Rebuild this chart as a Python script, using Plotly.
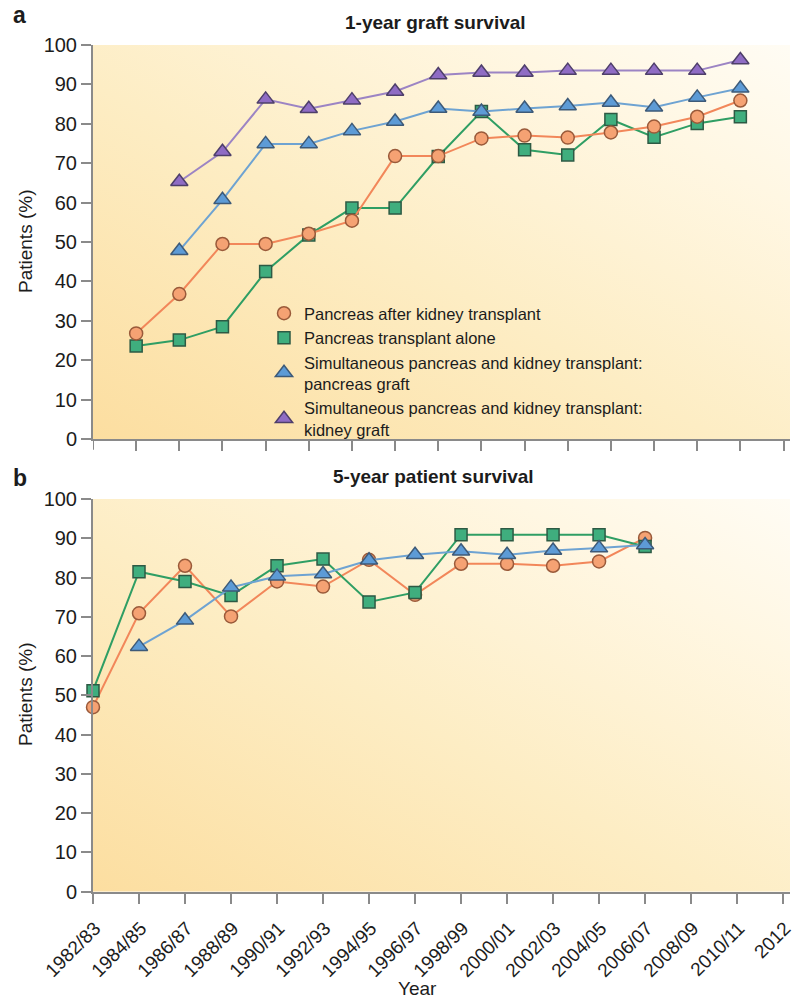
import base64
import plotly.graph_objects as go

# ---------------- data ----------------
periods = ["1982/83", "1984/85", "1986/87", "1988/89", "1990/91", "1992/93",
           "1994/95", "1996/97", "1998/99", "2000/01", "2002/03", "2004/05",
           "2006/07", "2008/09", "2010/11", "2012"]

# Panel a: 1-year graft survival (%)
pak_1yr_periods = periods[0:15]
pak_1yr = [26.8, 36.8, 49.5, 49.5, 52.1, 55.4, 71.8, 71.8, 76.3, 77.0, 76.5, 77.8, 79.3, 81.8, 85.9]
pta_1yr_periods = periods[0:15]
pta_1yr = [23.6, 25.1, 28.5, 42.5, 51.8, 58.6, 58.6, 71.7, 83.1, 73.4, 72.1, 81.1, 76.6, 80.1, 81.8]
spk_panc_1yr_periods = periods[1:15]
spk_panc_1yr = [47.8, 60.7, 74.9, 74.9, 78.2, 80.6, 83.9, 83.1, 83.9, 84.5, 85.4, 84.2, 86.7, 89.0]
spk_kid_1yr_periods = periods[1:15]
spk_kid_1yr = [65.3, 72.9, 86.2, 83.8, 86.0, 88.2, 92.4, 93.0, 93.0, 93.5, 93.5, 93.5, 93.5, 96.2]

# Panel b: 5-year patient survival (%)
pak_5yr_periods = periods[0:13]
pak_5yr = [47.0, 70.9, 83.0, 70.1, 79.0, 77.7, 84.5, 75.6, 83.5, 83.5, 83.0, 84.1, 90.1]
pta_5yr_periods = periods[0:13]
pta_5yr = [51.2, 81.5, 79.0, 75.4, 83.0, 84.7, 73.8, 76.2, 90.9, 90.9, 90.9, 90.9, 87.9]
spk_5yr_periods = periods[1:13]
spk_5yr = [62.4, 69.1, 77.5, 80.3, 80.9, 84.4, 85.8, 86.7, 85.8, 86.9, 87.5, 88.3]

y_ticks = [0, 10, 20, 30, 40, 50, 60, 70, 80, 90, 100]

legend_names = ["Pancreas after kidney transplant",
                "Pancreas transplant alone",
                "Simultaneous pancreas and kidney transplant:<br>pancreas graft",
                "Simultaneous pancreas and kidney transplant:<br>kidney graft"]

# ---------------- styles ----------------
W, H = 795, 1003
FONT = "Liberation Sans, Arial, Helvetica, sans-serif"
TXT = "#1c1c1c"
AX = "#8a8a8a"

styles = {
    "pak": dict(line="#f2875a", fill="#f5a273", edge="#9a5a3a", symbol="circle", size=13),
    "pta": dict(line="#2f9e64", fill="#3fae7e", edge="#2d5a44", symbol="square", size=12),
    "spkp": dict(line="#6ea3d2", fill="#5d9bd6", edge="#3d5a78", symbol="triangle-up", size=15),
    "spkk": dict(line="#9c84c4", fill="#8f6cc4", edge="#4e3f6a", symbol="triangle-up", size=15),
}


def px(x):
    return x / W


def py(y):
    return 1 - y / H


def series(x, y, key, xa, ya):
    s = styles[key]
    return go.Scatter(
        x=x, y=y, mode="lines+markers", xaxis=xa, yaxis=ya, showlegend=False,
        cliponaxis=False,
        line=dict(color=s["line"], width=2),
        marker=dict(symbol=s["symbol"], size=s["size"], color=s["fill"],
                    line=dict(color=s["edge"], width=1.5)),
    )


fig = go.Figure()

# Panel a
fig.add_trace(series(pta_1yr_periods, pta_1yr, "pta", "x", "y"))
fig.add_trace(series(pak_1yr_periods, pak_1yr, "pak", "x", "y"))
fig.add_trace(series(spk_kid_1yr_periods, spk_kid_1yr, "spkk", "x", "y"))
fig.add_trace(series(spk_panc_1yr_periods, spk_panc_1yr, "spkp", "x", "y"))

# Legend entries (markers only)
for key, name in zip(["pak", "pta", "spkp", "spkk"], legend_names):
    s = styles[key]
    fig.add_trace(go.Scatter(
        x=[None], y=[None], mode="markers", name=name, xaxis="x", yaxis="y",
        marker=dict(symbol=s["symbol"], size=s["size"], color=s["fill"],
                    line=dict(color=s["edge"], width=1.5)),
    ))

# Panel b
fig.add_trace(series(pak_5yr_periods, pak_5yr, "pak", "x2", "y2"))
fig.add_trace(series(pta_5yr_periods, pta_5yr, "pta", "x2", "y2"))
fig.add_trace(series(spk_5yr_periods, spk_5yr, "spkp", "x2", "y2"))

# Geometry (pixels)
left, right = 93, 790
a_top, a_bot = 45, 439
b_top, b_bot = 499, 891.7

common_y = dict(range=[0, 100], tickvals=y_ticks, ticks="outside", ticklen=10,
                tickwidth=2, tickcolor=AX, showline=True, linecolor=AX, linewidth=2,
                showgrid=False, zeroline=False, automargin=False,
                tickfont=dict(size=20, color=TXT, family=FONT))
common_x = dict(type="category", categoryorder="array", categoryarray=periods,
                ticks="outside", ticklen=10, tickwidth=2, tickcolor=AX, automargin=False,
                showline=True, linecolor=AX, linewidth=2, showgrid=False, zeroline=False)

# Gradient background as SVG image
svg = ('<svg xmlns="http://www.w3.org/2000/svg" width="200" height="200" viewBox="0 0 200 200" '
       'preserveAspectRatio="none"><defs><linearGradient id="g" x1="0" y1="1" x2="1" y2="0">'
       '<stop offset="0" stop-color="#fcdea0"/><stop offset="0.45" stop-color="#fdedc4"/>'
       '<stop offset="0.8" stop-color="#fff7e3"/><stop offset="1" stop-color="#fffcf4"/>'
       '</linearGradient></defs><rect width="200" height="200" fill="url(#g)"/></svg>')
svg_uri = "data:image/svg+xml;base64," + base64.b64encode(svg.encode()).decode()

images = []
for top, bot in [(a_top, a_bot), (b_top, b_bot)]:
    images.append(dict(source=svg_uri, xref="paper", yref="paper",
                       x=px(left), y=py(top), sizex=px(right) - px(left),
                       sizey=py(top) - py(bot), xanchor="left", yanchor="top",
                       sizing="stretch", layer="below"))

fig.update_layout(
    width=W, height=H,
    margin=dict(l=0, r=0, t=0, b=0, autoexpand=False),
    paper_bgcolor="white", plot_bgcolor="rgba(0,0,0,0)",
    font=dict(family=FONT, color=TXT),
    xaxis=dict(domain=[px(left), px(right)], anchor="y", range=[-1, 15.15],
               showticklabels=False, **common_x),
    yaxis=dict(domain=[py(a_bot), py(a_top)], anchor="x", **common_y),
    xaxis2=dict(domain=[px(left), px(right)], anchor="y2", range=[0, 15.15],
                tickangle=-45, ticklabelshift=2, ticklabelstandoff=6,
                tickfont=dict(size=19, color=TXT, family=FONT), **common_x),
    yaxis2=dict(domain=[py(b_bot), py(b_top)], anchor="x2", **common_y),
    images=images,
    showlegend=True,
    legend=dict(x=px(264), y=py(296), xanchor="left", yanchor="top",
                bgcolor="rgba(0,0,0,0)", font=dict(size=16.5, color=TXT, family=FONT),
                tracegroupgap=0, itemwidth=30),
    shapes=[dict(type="line", xref="x", yref="y domain", x0=-1, x1=-1, y0=0, y1=-0.027,
                 line=dict(color=AX, width=2))],
    annotations=[
        dict(text="<b>a</b>", x=px(11), y=py(15), xref="paper", yref="paper",
             xanchor="left", yanchor="middle", showarrow=False, font=dict(size=23)),
        dict(text="<b>1-year graft survival</b>", x=px(435), y=py(22), xref="paper", yref="paper",
             xanchor="center", yanchor="middle", showarrow=False, font=dict(size=19)),
        dict(text="<b>b</b>", x=px(11), y=py(478), xref="paper", yref="paper",
             xanchor="left", yanchor="middle", showarrow=False, font=dict(size=23)),
        dict(text="<b>5-year patient survival</b>", x=px(433), y=py(477), xref="paper", yref="paper",
             xanchor="center", yanchor="middle", showarrow=False, font=dict(size=19)),
        dict(text="Patients (%)", x=px(25), y=py(242), xref="paper", yref="paper",
             textangle=-90, xanchor="center", yanchor="middle", showarrow=False, font=dict(size=19)),
        dict(text="Patients (%)", x=px(25), y=py(695), xref="paper", yref="paper",
             textangle=-90, xanchor="center", yanchor="middle", showarrow=False, font=dict(size=19)),
        dict(text="Year", x=px(417), y=py(988), xref="paper", yref="paper",
             xanchor="center", yanchor="middle", showarrow=False, font=dict(size=19)),
    ],
)

fig.write_html("out.html", config={"displayModeBar": False},
               post_script="document.body.style.margin='0px';")
